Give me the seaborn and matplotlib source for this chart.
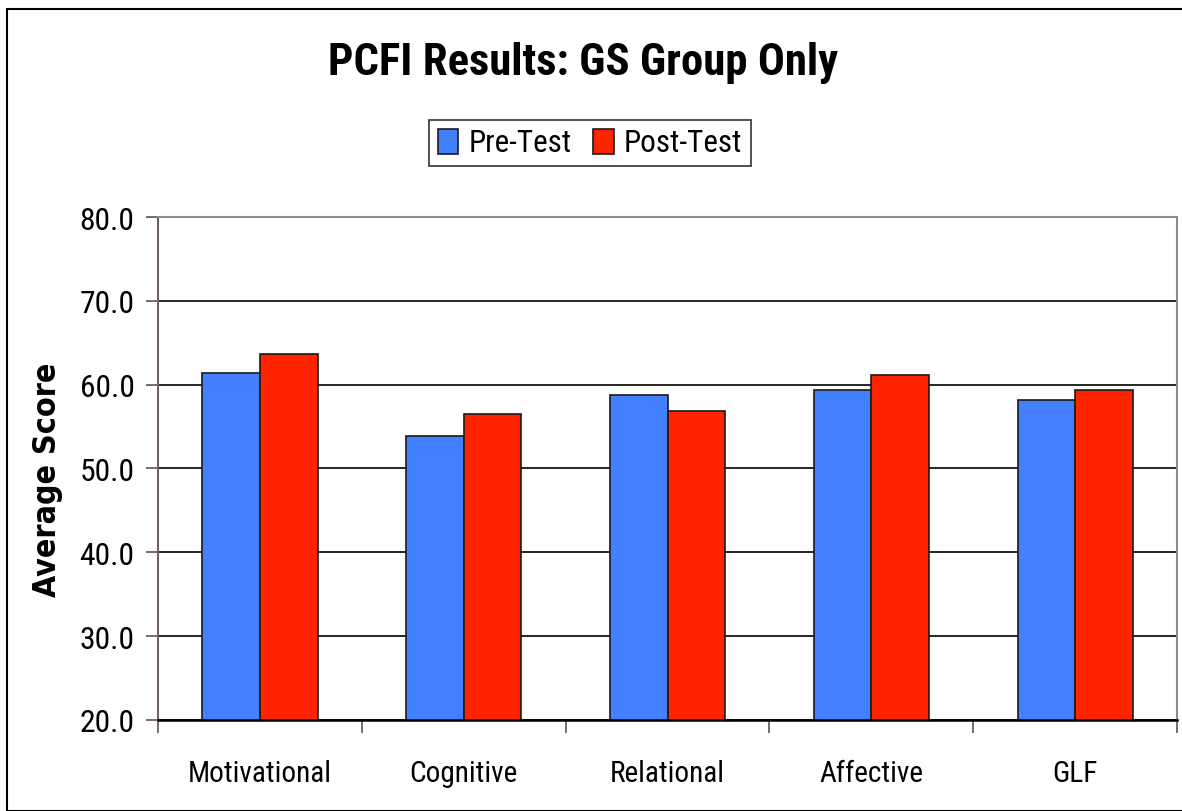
import numpy as np
import pandas as pd
import matplotlib
matplotlib.use('Agg')
import matplotlib.pyplot as plt
import seaborn as sns
from matplotlib import font_manager
from matplotlib.patches import Rectangle
from matplotlib.ticker import FixedLocator, FormatStrFormatter

categories = ['Motivational', 'Cognitive', 'Relational', 'Affective', 'GLF']
pre_test   = [61.4, 53.9, 58.8, 59.4, 58.2]
post_test  = [63.7, 56.5, 56.8, 61.1, 59.4]
series     = ['Pre-Test', 'Post-Test']
colors     = ['#4380FF', '#FF2400']

df = pd.DataFrame({
    'category': categories * 2,
    'test': [series[0]] * len(categories) + [series[1]] * len(categories),
    'score': pre_test + post_test,
})

# narrow font if one is around, otherwise DejaVu Sans
names = {f.name for f in font_manager.fontManager.ttflist}
NARROW = next((n for n in ['Liberation Sans Narrow', 'DejaVu Sans Condensed',
                           'Roboto Condensed', 'Open Sans Condensed']
               if n in names), 'DejaVu Sans')
STRETCH = 'condensed' if any(f.name == 'DejaVu Sans' and f.stretch == 'condensed'
                             for f in font_manager.fontManager.ttflist) else 'normal'

sns.set_style('white')
plt.rcParams['font.family'] = [NARROW, 'DejaVu Sans']
plt.rcParams['font.stretch'] = STRETCH
for k in ['text.color', 'axes.labelcolor', 'xtick.color', 'ytick.color']:
    plt.rcParams[k] = 'black'

fig = plt.figure(figsize=(11.82, 8.12), dpi=100)
ax = fig.add_axes([0.1337, 0.1121, 0.8621, 0.6194])

sns.barplot(data=df, x='category', y='score', hue='test', order=categories,
            hue_order=series, palette=colors, width=0.565, ax=ax,
            edgecolor='#1a1a1a', linewidth=1.2, saturation=1, legend=True)

ax.set_ylim(20, 80)
ax.set_xlim(-0.5, len(categories) - 0.5)
ax.set_yticks(np.arange(20, 81, 10))
ax.yaxis.set_major_formatter(FormatStrFormatter('%.1f'))
ax.yaxis.grid(True, color='black', linewidth=1.2)
ax.set_axisbelow(True)

# boundary ticks on x, labels centred without ticks
ax.xaxis.set_minor_locator(FixedLocator(np.arange(-0.5, len(categories), 1.0)))
ax.tick_params(axis='x', which='major', length=0, pad=28)
ax.tick_params(axis='x', which='minor', length=9, width=1.3, color='#6e6060',
               direction='out', bottom=True)
ax.tick_params(axis='y', which='major', length=9, width=1.3, color='#6e6060',
               direction='out', left=True, pad=8)

for side in ['top', 'right']:
    ax.spines[side].set_color('#8c8c8c')
    ax.spines[side].set_linewidth(1.5)
ax.spines['left'].set_color('#6e6060')
ax.spines['left'].set_linewidth(1.5)
ax.spines['bottom'].set_color('black')
ax.spines['bottom'].set_linewidth(1.8)

ax.set_xlabel('')
ax.set_ylabel('Average Score', family='DejaVu Sans', fontweight='bold',
              fontsize=23, labelpad=12, y=0.48)

leg = ax.legend(loc='center', bbox_to_anchor=(590 / 1182, 1 - 144 / 812),
                bbox_transform=fig.transFigure, ncol=2, frameon=True,
                fancybox=False, shadow=False, fontsize=21, handlelength=0.7,
                handleheight=0.95, handletextpad=0.35, columnspacing=0.75,
                borderpad=0.3, borderaxespad=0)
leg.get_frame().set_edgecolor('black')
leg.get_frame().set_linewidth(1.2)

title = fig.text(583 / 1182, 1 - 63 / 812, 'PCFI Results: GS Group Only',
                 ha='center', va='center', fontsize=30, fontweight='bold')

fig.patches.append(Rectangle((7 / 1182, 0), 1 - 7 / 1182 + 0.01, 1 - 10 / 812,
                             transform=fig.transFigure, fill=False,
                             edgecolor='black', linewidth=1.5))

# size the texts so their widths match the picture
r = fig.canvas.get_renderer()
def fit(texts, ref, target):
    w = ref.get_window_extent(r).width
    s = ref.get_fontsize() * target / w
    for t in texts:
        t.set_fontsize(s)

ax.tick_params(axis='both', labelsize=21)
fig.canvas.draw()
xl = ax.get_xticklabels()
yl = ax.get_yticklabels()
fit(xl, xl[0], 144)
fit(yl, yl[-1], 55)
fit([title], title, 510)
fit(leg.get_texts(), leg.get_texts()[0], 103)

fig.savefig('out.png', dpi=100)
